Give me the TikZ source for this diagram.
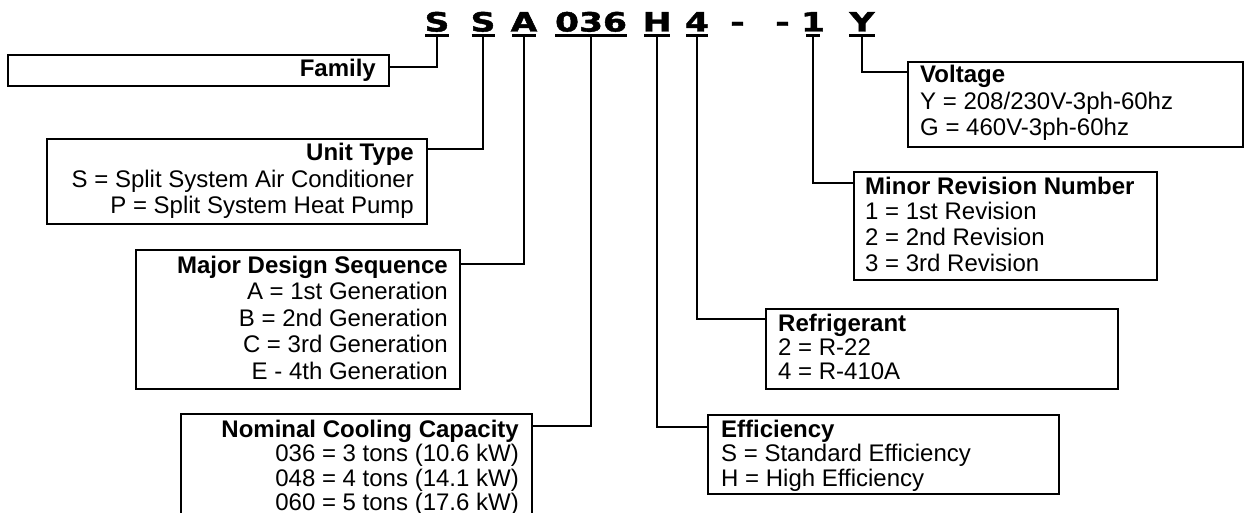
\documentclass[tikz,border=0pt]{standalone}
\usepackage{graphicx}
\usepackage{fontspec}
\setmainfont{Liberation Sans}
\newfontfamily\codefont[BoldFeatures={FakeBold=1.5}]{DejaVu Sans}
\begin{document}
\begin{tikzpicture}[x=1pt,y=-1pt,
  box/.style={draw=black, line width=1.8pt, inner sep=0pt, anchor=north west},
  conn/.style={draw=black, line width=1.3pt},
  uline/.style={draw=black, line width=2.4pt},
  code/.style={font=\codefont\bfseries\fontsize{26.5}{26.5}\selectfont, inner sep=0pt, anchor=base},
  lbl/.style={inner sep=0pt},
]
\useasboundingbox (0,0) rectangle (1244,513);
\clip (0,0) rectangle (1244,513);

% code letters
\node[code] (cS1) at (437,31.5) {\scalebox{1.3}[1]{S}};
\node[code] (cS2) at (483,31.5) {\scalebox{1.3}[1]{S}};
\node[code] (cA) at (524,31.5) {\scalebox{1.3}[1]{A}};
\node[code] (c036) at (591,31.5) {\scalebox{1.3}[1]{036}};
\node[code] (cH) at (657,31.5) {\scalebox{1.3}[1]{H}};
\node[code] (c4) at (697,31.5) {\scalebox{1.3}[1]{4}};
\node[code] (cd1) at (737.5,31.5) {\scalebox{1.3}[1]{-}};
\node[code] (cd2) at (782.5,31.5) {\scalebox{1.3}[1]{-}};
\node[code] (c1) at (813,31.5) {\scalebox{1.3}[1]{1}};
\node[code] (cY) at (862,31.5) {\scalebox{1.3}[1]{Y}};

\foreach \n/\w in {cS1/12, cS2/11.5, cA/12, c036/36, cH/13, c4/11, c1/7, cY/13}
  \draw[uline] ([xshift=-\w pt, yshift=-4pt]\n.base) -- ([xshift=\w pt, yshift=-4pt]\n.base);

% boxes
\node[box, minimum width=381pt, minimum height=31pt] (family) at (7,54) {};
\node[box, minimum width=380pt, minimum height=85pt] (unit) at (46,138) {};
\node[box, minimum width=324pt, minimum height=139pt] (major) at (135,249) {};
\node[box, minimum width=351pt, minimum height=130pt] (nominal) at (180,413) {};
\node[box, minimum width=335pt, minimum height=85pt] (volt) at (907,61) {};
\node[box, minimum width=303pt, minimum height=108pt] (minor) at (853,171) {};
\node[box, minimum width=352pt, minimum height=80pt] (refrig) at (765,308) {};
\node[box, minimum width=351pt, minimum height=79pt] (eff) at (707,414) {};

% texts
\node[lbl, anchor=base east] (tfamily) at (376,77) {\fontsize{24}{26.5}\selectfont\textbf{Family}};
\node[lbl, anchor=base east] (tunit) at (414,161) {\fontsize{24}{26.5}\selectfont
  \begin{tabular}[t]{@{}r@{}}\textbf{Unit Type}\\ S = Split System Air Conditioner\\ P = Split System Heat Pump\end{tabular}};
\node[lbl, anchor=base east] (tmajor) at (448,273) {\fontsize{24}{26.5}\selectfont
  \begin{tabular}[t]{@{}r@{}}\textbf{Major Design Sequence}\\ A = 1st Generation\\ B = 2nd Generation\\ C = 3rd Generation\\ E - 4th Generation\end{tabular}};
\node[lbl, anchor=base east] (tnominal) at (519,437) {\fontsize{24}{24}\selectfont
  \begin{tabular}[t]{@{}r@{}}\textbf{Nominal Cooling Capacity}\\ 036 = 3 tons (10.6 kW)\\ 048 = 4 tons (14.1 kW)\\ 060 = 5 tons (17.6 kW)\end{tabular}};
\node[lbl, anchor=base west] (tvolt) at (920,82.5) {\fontsize{24}{26.7}\selectfont
  \begin{tabular}[t]{@{}l@{}}\textbf{Voltage}\\ Y = 208/230V-3ph-60hz\\ G = 460V-3ph-60hz\end{tabular}};
\node[lbl, anchor=base west] (tminor) at (865,194) {\fontsize{24}{25.8}\selectfont
  \begin{tabular}[t]{@{}l@{}}\textbf{Minor Revision Number}\\ 1 = 1st Revision\\ 2 = 2nd Revision\\ 3 = 3rd Revision\end{tabular}};
\node[lbl, anchor=base west] (trefrig) at (778,331) {\fontsize{24}{24.3}\selectfont
  \begin{tabular}[t]{@{}l@{}}\textbf{Refrigerant}\\ 2 = R-22\\ 4 = R-410A\end{tabular}};
\node[lbl, anchor=base west] (teff) at (721,437) {\fontsize{24}{24}\selectfont
  \begin{tabular}[t]{@{}l@{}}\textbf{Efficiency}\\ S = Standard Efficiency\\ H = High Efficiency\end{tabular}};

% connectors
\draw[conn] ([yshift=-6pt]cS1.base) |- ([yshift=-13pt]family.north east);
\draw[conn] ([yshift=-6pt]cS2.base) |- ([yshift=-11pt]unit.north east);
\draw[conn] ([yshift=-6pt]cA.base) |- ([yshift=-15pt]major.north east);
\draw[conn] ([yshift=-6pt]c036.base) |- ([yshift=-13pt]nominal.north east);
\draw[conn] ([yshift=-6pt]cH.base) |- ([yshift=-13pt]eff.north west);
\draw[conn] ([yshift=-6pt]c4.base) |- ([yshift=-11pt]refrig.north west);
\draw[conn] ([yshift=-6pt]c1.base) |- ([yshift=-12pt]minor.north west);
\draw[conn] ([yshift=-6pt]cY.base) |- ([yshift=-11pt]volt.north west);
\end{tikzpicture}
\end{document}
